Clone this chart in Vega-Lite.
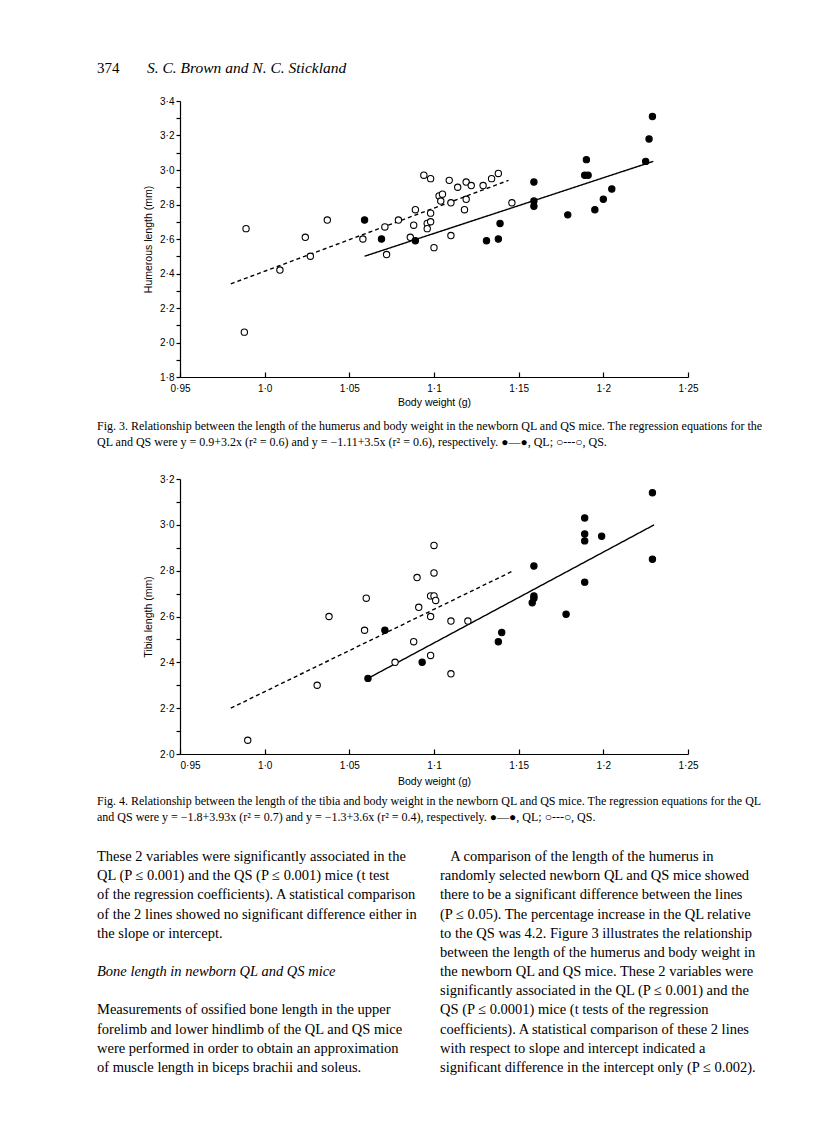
{
  "$schema": "https://vega.github.io/schema/vega-lite/v6.json",
  "padding": {"left": 97, "top": 61, "right": 10, "bottom": 10},
  "background": "#ffffff",
  "config": {
    "view": {"stroke": null},
    "axis": {
      "grid": false,
      "domainColor": "#000",
      "tickColor": "#000",
      "labelColor": "#000",
      "titleColor": "#000",
      "labelFont": "Liberation Sans",
      "titleFont": "Liberation Sans",
      "labelFontSize": 10,
      "titleFontSize": 10.5,
      "titleFontWeight": "normal",
      "domainWidth": 1.2,
      "tickWidth": 1.2
    }
  },
  "datasets": {
    "header": [
      {"part": "page", "text": "374"},
      {"part": "authors", "text": "S. C. Brown and N. C. Stickland"}
    ],
    "pts3": [
      {"bw": 0.989, "len": 2.66, "strain": "QS"},
      {"bw": 0.988, "len": 2.06, "strain": "QS"},
      {"bw": 1.009, "len": 2.42, "strain": "QS"},
      {"bw": 1.024, "len": 2.61, "strain": "QS"},
      {"bw": 1.027, "len": 2.50, "strain": "QS"},
      {"bw": 1.037, "len": 2.71, "strain": "QS"},
      {"bw": 1.058, "len": 2.60, "strain": "QS"},
      {"bw": 1.071, "len": 2.67, "strain": "QS"},
      {"bw": 1.072, "len": 2.51, "strain": "QS"},
      {"bw": 1.079, "len": 2.71, "strain": "QS"},
      {"bw": 1.086, "len": 2.61, "strain": "QS"},
      {"bw": 1.089, "len": 2.77, "strain": "QS"},
      {"bw": 1.088, "len": 2.68, "strain": "QS"},
      {"bw": 1.094, "len": 2.97, "strain": "QS"},
      {"bw": 1.098, "len": 2.95, "strain": "QS"},
      {"bw": 1.098, "len": 2.75, "strain": "QS"},
      {"bw": 1.096, "len": 2.69, "strain": "QS"},
      {"bw": 1.098, "len": 2.70, "strain": "QS"},
      {"bw": 1.096, "len": 2.66, "strain": "QS"},
      {"bw": 1.100, "len": 2.55, "strain": "QS"},
      {"bw": 1.103, "len": 2.85, "strain": "QS"},
      {"bw": 1.105, "len": 2.86, "strain": "QS"},
      {"bw": 1.104, "len": 2.82, "strain": "QS"},
      {"bw": 1.109, "len": 2.94, "strain": "QS"},
      {"bw": 1.110, "len": 2.81, "strain": "QS"},
      {"bw": 1.110, "len": 2.62, "strain": "QS"},
      {"bw": 1.114, "len": 2.90, "strain": "QS"},
      {"bw": 1.119, "len": 2.93, "strain": "QS"},
      {"bw": 1.122, "len": 2.91, "strain": "QS"},
      {"bw": 1.119, "len": 2.83, "strain": "QS"},
      {"bw": 1.118, "len": 2.77, "strain": "QS"},
      {"bw": 1.129, "len": 2.91, "strain": "QS"},
      {"bw": 1.134, "len": 2.95, "strain": "QS"},
      {"bw": 1.138, "len": 2.98, "strain": "QS"},
      {"bw": 1.146, "len": 2.81, "strain": "QS"},
      {"bw": 1.059, "len": 2.71, "strain": "QL"},
      {"bw": 1.069, "len": 2.60, "strain": "QL"},
      {"bw": 1.089, "len": 2.59, "strain": "QL"},
      {"bw": 1.131, "len": 2.59, "strain": "QL"},
      {"bw": 1.138, "len": 2.60, "strain": "QL"},
      {"bw": 1.139, "len": 2.69, "strain": "QL"},
      {"bw": 1.159, "len": 2.93, "strain": "QL"},
      {"bw": 1.159, "len": 2.82, "strain": "QL"},
      {"bw": 1.159, "len": 2.79, "strain": "QL"},
      {"bw": 1.179, "len": 2.74, "strain": "QL"},
      {"bw": 1.190, "len": 3.06, "strain": "QL"},
      {"bw": 1.189, "len": 2.97, "strain": "QL"},
      {"bw": 1.191, "len": 2.97, "strain": "QL"},
      {"bw": 1.195, "len": 2.77, "strain": "QL"},
      {"bw": 1.200, "len": 2.83, "strain": "QL"},
      {"bw": 1.205, "len": 2.89, "strain": "QL"},
      {"bw": 1.225, "len": 3.05, "strain": "QL"},
      {"bw": 1.227, "len": 3.18, "strain": "QL"},
      {"bw": 1.229, "len": 3.31, "strain": "QL"}
    ],
    "lines3": [
      {"bw": 0.980, "len": 2.34, "strain": "QS"},
      {"bw": 1.144, "len": 2.94, "strain": "QS"},
      {"bw": 1.059, "len": 2.50, "strain": "QL"},
      {"bw": 1.2295, "len": 3.05, "strain": "QL"}
    ],
    "pts4": [
      {"bw": 0.990, "len": 2.06, "strain": "QS"},
      {"bw": 1.031, "len": 2.30, "strain": "QS"},
      {"bw": 1.038, "len": 2.60, "strain": "QS"},
      {"bw": 1.060, "len": 2.68, "strain": "QS"},
      {"bw": 1.059, "len": 2.54, "strain": "QS"},
      {"bw": 1.077, "len": 2.40, "strain": "QS"},
      {"bw": 1.088, "len": 2.49, "strain": "QS"},
      {"bw": 1.090, "len": 2.77, "strain": "QS"},
      {"bw": 1.091, "len": 2.64, "strain": "QS"},
      {"bw": 1.098, "len": 2.69, "strain": "QS"},
      {"bw": 1.100, "len": 2.69, "strain": "QS"},
      {"bw": 1.101, "len": 2.67, "strain": "QS"},
      {"bw": 1.098, "len": 2.60, "strain": "QS"},
      {"bw": 1.098, "len": 2.43, "strain": "QS"},
      {"bw": 1.100, "len": 2.91, "strain": "QS"},
      {"bw": 1.100, "len": 2.79, "strain": "QS"},
      {"bw": 1.110, "len": 2.58, "strain": "QS"},
      {"bw": 1.110, "len": 2.35, "strain": "QS"},
      {"bw": 1.120, "len": 2.58, "strain": "QS"},
      {"bw": 1.061, "len": 2.33, "strain": "QL"},
      {"bw": 1.071, "len": 2.54, "strain": "QL"},
      {"bw": 1.093, "len": 2.40, "strain": "QL"},
      {"bw": 1.138, "len": 2.49, "strain": "QL"},
      {"bw": 1.140, "len": 2.53, "strain": "QL"},
      {"bw": 1.158, "len": 2.66, "strain": "QL"},
      {"bw": 1.159, "len": 2.69, "strain": "QL"},
      {"bw": 1.159, "len": 2.68, "strain": "QL"},
      {"bw": 1.159, "len": 2.82, "strain": "QL"},
      {"bw": 1.178, "len": 2.61, "strain": "QL"},
      {"bw": 1.189, "len": 3.03, "strain": "QL"},
      {"bw": 1.189, "len": 2.96, "strain": "QL"},
      {"bw": 1.189, "len": 2.93, "strain": "QL"},
      {"bw": 1.189, "len": 2.75, "strain": "QL"},
      {"bw": 1.199, "len": 2.95, "strain": "QL"},
      {"bw": 1.229, "len": 3.14, "strain": "QL"},
      {"bw": 1.229, "len": 2.85, "strain": "QL"}
    ],
    "lines4": [
      {"bw": 0.980, "len": 2.20, "strain": "QS"},
      {"bw": 1.147, "len": 2.80, "strain": "QS"},
      {"bw": 1.061, "len": 2.33, "strain": "QL"},
      {"bw": 1.230, "len": 3.00, "strain": "QL"}
    ],
    "body": [
      {"col": "L", "line": 0, "kind": "para", "text": "These 2 variables were significantly associated in the"},
      {"col": "L", "line": 1, "kind": "para", "text": "QL (P ≤ 0.001) and the QS (P ≤ 0.001) mice (t test"},
      {"col": "L", "line": 2, "kind": "para", "text": "of the regression coefficients). A statistical comparison"},
      {"col": "L", "line": 3, "kind": "para", "text": "of the 2 lines showed no significant difference either in"},
      {"col": "L", "line": 4, "kind": "para", "text": "the slope or intercept."},
      {"col": "L", "line": 6, "kind": "heading", "text": "Bone length in newborn QL and QS mice"},
      {"col": "L", "line": 8, "kind": "para", "text": "Measurements of ossified bone length in the upper"},
      {"col": "L", "line": 9, "kind": "para", "text": "forelimb and lower hindlimb of the QL and QS mice"},
      {"col": "L", "line": 10, "kind": "para", "text": "were performed in order to obtain an approximation"},
      {"col": "L", "line": 11, "kind": "para", "text": "of muscle length in biceps brachii and soleus."},
      {"col": "R", "line": 0, "kind": "para", "text": "\u200b\u2002\u2009A comparison of the length of the humerus in"},
      {"col": "R", "line": 1, "kind": "para", "text": "randomly selected newborn QL and QS mice showed"},
      {"col": "R", "line": 2, "kind": "para", "text": "there to be a significant difference between the lines"},
      {"col": "R", "line": 3, "kind": "para", "text": "(P ≤ 0.05). The percentage increase in the QL relative"},
      {"col": "R", "line": 4, "kind": "para", "text": "to the QS was 4.2. Figure 3 illustrates the relationship"},
      {"col": "R", "line": 5, "kind": "para", "text": "between the length of the humerus and body weight in"},
      {"col": "R", "line": 6, "kind": "para", "text": "the newborn QL and QS mice. These 2 variables were"},
      {"col": "R", "line": 7, "kind": "para", "text": "significantly associated in the QL (P ≤ 0.001) and the"},
      {"col": "R", "line": 8, "kind": "para", "text": "QS (P ≤ 0.0001) mice (t tests of the regression"},
      {"col": "R", "line": 9, "kind": "para", "text": "coefficients). A statistical comparison of these 2 lines"},
      {"col": "R", "line": 10, "kind": "para", "text": "with respect to slope and intercept indicated a"},
      {"col": "R", "line": 11, "kind": "para", "text": "significant difference in the intercept only (P ≤ 0.002)."}
    ]
  },
  "vconcat": [
    {
      "width": 508,
      "height": 276,
      "title": {
        "text": [
          "Fig. 3. Relationship between the length of the humerus and body weight in the newborn QL and QS mice. The regression equations for the",
          "QL and QS were y = 0.9+3.2x (r² = 0.6) and y = −1.11+3.5x (r² = 0.6), respectively. ●—●, QL; ○---○, QS."
        ],
        "orient": "bottom",
        "anchor": "start",
        "frame": "group",
        "dx": -83,
        "offset": 13,
        "font": "Liberation Serif",
        "fontSize": 12,
        "fontWeight": "normal",
        "lineHeight": 16,
        "color": "#000"
      },
      "resolve": {"scale": {"x": "independent", "y": "independent"}},
      "layer": [
        {
          "encoding": {
            "x": {
              "field": "bw", "type": "quantitative",
              "scale": {"domain": [0.95, 1.25], "nice": false, "zero": false},
              "axis": {
                "title": "Body weight (g)",
                "values": [0.95, 1.0, 1.05, 1.1, 1.15, 1.2, 1.25],
                "labelExpr": "replace(format(datum.value, round(datum.value*100)%10==0 ? '.1f' : '.2f'), '.', '·')",
                "labelFlush": false,
                "tickSize": -5,
                "labelPadding": 11,
                "titlePadding": 4
              }
            },
            "y": {
              "field": "len", "type": "quantitative",
              "scale": {"domain": [1.8, 3.4], "nice": false, "zero": false},
              "axis": {
                "title": "Humerous length (mm)",
                "values": [1.8, 1.9, 2.0, 2.1, 2.2, 2.3, 2.4, 2.5, 2.6, 2.7, 2.8, 2.9, 3.0, 3.1, 3.2, 3.3, 3.4],
                "labelExpr": "round(datum.value*10)%2==0 ? replace(format(datum.value,'.1f'),'.','·') : ''",
                "tickSize": 4,
                "labelPadding": 2,
                "titlePadding": 6
              }
            }
          },
          "layer": [
            {
              "data": {"name": "lines3"},
              "mark": {"type": "line", "color": "#000", "strokeWidth": 1.4},
              "encoding": {
                "detail": {"field": "strain", "type": "nominal"},
                "strokeDash": {"field": "strain", "type": "nominal", "scale": {"domain": ["QL", "QS"], "range": [[1, 0], [4, 3]]}, "legend": null}
              }
            },
            {
              "data": {"name": "pts3"},
              "mark": {"type": "point", "shape": "circle", "filled": true, "opacity": 1, "size": 40, "stroke": "#000", "strokeWidth": 1.1},
              "encoding": {
                "fill": {"field": "strain", "type": "nominal", "scale": {"domain": ["QL", "QS"], "range": ["#000000", "#ffffff"]}, "legend": null}
              }
            }
          ]
        },
        {
          "data": {"name": "header"},
          "encoding": {
            "x": {"field": "part", "type": "nominal", "scale": {"type": "point", "domain": ["page", "authors"], "range": [-83, -33], "padding": 0}, "axis": null},
            "y": {"field": "part", "type": "nominal", "scale": {"type": "point", "domain": ["page", "authors"], "range": [-33, -33], "padding": 0}, "axis": null},
            "text": {"field": "text", "type": "nominal"}
          },
          "layer": [
            {
              "transform": [{"filter": "datum.part == 'page'"}],
              "mark": {"type": "text", "align": "left", "baseline": "middle", "font": "Liberation Serif", "fontSize": 15, "color": "#000"}
            },
            {
              "transform": [{"filter": "datum.part == 'authors'"}],
              "mark": {"type": "text", "align": "left", "baseline": "middle", "font": "Liberation Serif", "fontSize": 15.5, "fontStyle": "italic", "color": "#000"}
            }
          ]
        }
      ]
    },
    {
      "width": 508,
      "height": 275,
      "title": {
        "text": [
          "Fig. 4. Relationship between the length of the tibia and body weight in the newborn QL and QS mice. The regression equations for the QL",
          "and QS were y = −1.8+3.93x (r² = 0.7) and y = −1.3+3.6x (r² = 0.4), respectively. ●—●, QL; ○---○, QS."
        ],
        "orient": "bottom",
        "anchor": "start",
        "frame": "group",
        "dx": -83,
        "offset": 9,
        "font": "Liberation Serif",
        "fontSize": 12,
        "fontWeight": "normal",
        "lineHeight": 16,
        "color": "#000"
      },
      "encoding": {
        "x": {
          "field": "bw", "type": "quantitative",
          "scale": {"domain": [0.95, 1.25], "nice": false, "zero": false},
          "axis": {
            "title": "Body weight (g)",
            "values": [0.95, 1.0, 1.05, 1.1, 1.15, 1.2, 1.25],
            "labelExpr": "replace(format(datum.value, round(datum.value*100)%10==0 ? '.1f' : '.2f'), '.', '·')",
            "labelFlush": false,
            "labelAlign": {"condition": {"test": "datum.value < 0.96", "value": "left"}, "value": "center"},
            "tickSize": -5,
            "labelPadding": 11,
            "titlePadding": 6
          }
        },
        "y": {
          "field": "len", "type": "quantitative",
          "scale": {"domain": [2.0, 3.2], "nice": false, "zero": false},
          "axis": {
            "title": "Tibia length (mm)",
            "values": [2.0, 2.1, 2.2, 2.3, 2.4, 2.5, 2.6, 2.7, 2.8, 2.9, 3.0, 3.1, 3.2],
            "labelExpr": "round(datum.value*10)%2==0 ? replace(format(datum.value,'.1f'),'.','·') : ''",
            "tickSize": 4,
            "labelPadding": 2,
            "titlePadding": 6
          }
        }
      },
      "layer": [
        {
          "data": {"name": "lines4"},
          "mark": {"type": "line", "color": "#000", "strokeWidth": 1.4},
          "encoding": {
            "detail": {"field": "strain", "type": "nominal"},
            "strokeDash": {"field": "strain", "type": "nominal", "scale": {"domain": ["QL", "QS"], "range": [[1, 0], [4, 3]]}, "legend": null}
          }
        },
        {
          "data": {"name": "pts4"},
          "mark": {"type": "point", "shape": "circle", "filled": true, "opacity": 1, "size": 40, "stroke": "#000", "strokeWidth": 1.1},
          "encoding": {
            "fill": {"field": "strain", "type": "nominal", "scale": {"domain": ["QL", "QS"], "range": ["#000000", "#ffffff"]}, "legend": null}
          }
        }
      ]
    },
    {
      "width": 508,
      "height": 211,
      "data": {"name": "body"},
      "encoding": {
        "x": {"field": "col", "type": "nominal", "scale": {"type": "point", "domain": ["L", "R"], "range": [-83, 260], "padding": 0}, "axis": null},
        "y": {"field": "line", "type": "quantitative", "scale": {"domain": [0, 11], "range": [0, 211]}, "axis": null},
        "text": {"field": "text", "type": "nominal"}
      },
      "layer": [
        {
          "transform": [{"filter": "datum.kind == 'para'"}],
          "mark": {"type": "text", "align": "left", "baseline": "middle", "font": "Liberation Serif", "fontSize": 14.5, "color": "#000"}
        },
        {
          "transform": [{"filter": "datum.kind == 'heading'"}],
          "mark": {"type": "text", "align": "left", "baseline": "middle", "font": "Liberation Serif", "fontSize": 14.5, "fontStyle": "italic", "color": "#000"}
        }
      ]
    }
  ],
  "spacing": 26
}
